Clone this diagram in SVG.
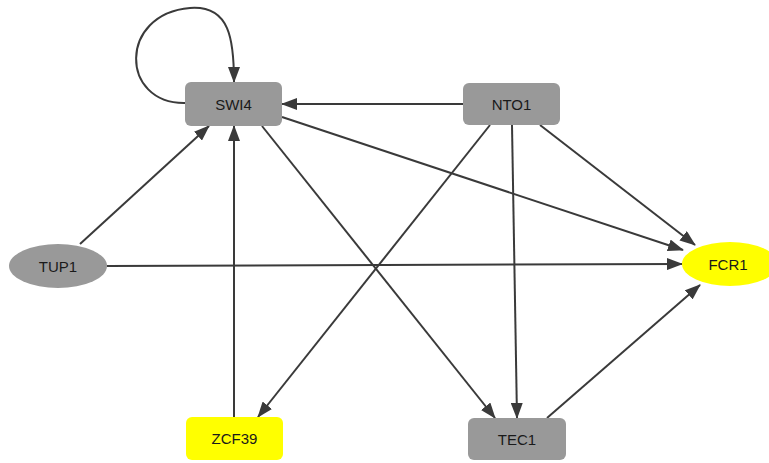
<svg xmlns="http://www.w3.org/2000/svg" width="769" height="463" viewBox="0 0 769 463">
<style>
.e{fill:none;stroke:#3a3a3a;stroke-width:2;marker-end:url(#ah)}
.g{fill:#999999}
.y{fill:#ffff00}
text{font-family:"Liberation Sans",Arial,sans-serif;font-size:15px;fill:#1a1a1a;text-anchor:middle;dominant-baseline:central}
</style>
<defs>
<marker id="ah" markerUnits="userSpaceOnUse" markerWidth="16" markerHeight="12" refX="15" refY="6" orient="auto">
<path d="M0,0 L16,6 L0,12 Z" fill="#3a3a3a"/>
</marker>
</defs>
<rect width="769" height="463" fill="#ffffff"/>
<g id="edges">
<path class="e" d="M185,103 C120,104 118,14 190,8 C230,5 234,40 234,82"/>
<path class="e" d="M463,104 L282,104"/>
<path class="e" d="M282,117 L683,250"/>
<path class="e" d="M262,126 L495,418"/>
<path class="e" d="M80,244 L209,126"/>
<path class="e" d="M107,266 L682,264"/>
<path class="e" d="M490,125 L258,417"/>
<path class="e" d="M512,125 L517,418"/>
<path class="e" d="M540,125 L695,245"/>
<path class="e" d="M234,417 L234,126"/>
<path class="e" d="M547,418 L700,285"/>
</g>
<g id="SWI4"><rect class="g" x="185" y="82" width="97" height="44" rx="6"/><text x="233.5" y="104">SWI4</text></g>
<g id="NTO1"><rect class="g" x="463" y="83" width="97" height="42" rx="6"/><text x="511.5" y="104">NTO1</text></g>
<g id="TUP1"><ellipse class="g" cx="58" cy="266" rx="49" ry="22"/><text x="58" y="266">TUP1</text></g>
<g id="FCR1"><ellipse class="y" cx="730" cy="264" rx="48" ry="22"/><text x="728" y="264">FCR1</text></g>
<g id="ZCF39"><rect class="y" x="186" y="417" width="97" height="43" rx="6"/><text x="234.5" y="438.5">ZCF39</text></g>
<g id="TEC1"><rect class="g" x="468" y="418" width="98" height="42" rx="6"/><text x="517" y="439">TEC1</text></g>
</svg>
